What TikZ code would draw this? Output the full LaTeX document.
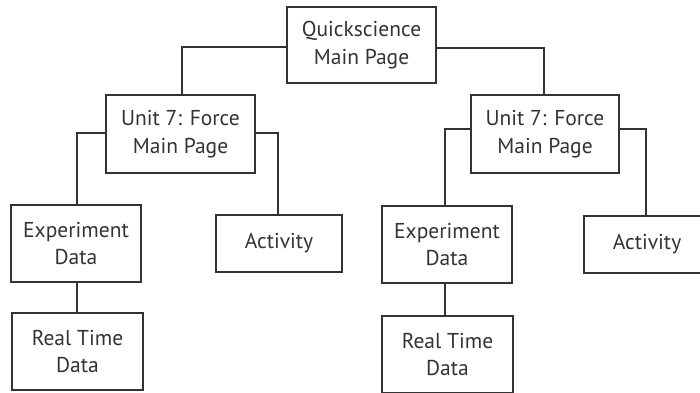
\documentclass[tikz,border=0pt]{standalone}
\usepackage{fontspec}
\setmainfont{PT Sans}
\definecolor{ink}{HTML}{333333}
\begin{document}
\begin{tikzpicture}[x=1pt,y=-1pt,
  box/.style={draw=ink, line width=1.4pt, text=ink, align=center, inner sep=0pt,
    font=\fontsize{21.5}{27.5}\selectfont},
  link/.style={draw=ink, line width=1.6pt}]
\useasboundingbox (0,0) rectangle (700,392);
\node[box, minimum width=149pt, minimum height=76pt] (Q) at (361.5,45) {Quickscience\\Main Page};
\node[box, minimum width=149pt, minimum height=78pt] (UL) at (180.5,134) {Unit 7: Force\\Main Page};
\node[box, minimum width=148pt, minimum height=78pt] (UR) at (545,134) {Unit 7: Force\\Main Page};
\node[box, minimum width=130pt, minimum height=77pt] (EL) at (76,243.5) {Experiment\\Data};
\node[box, minimum width=126pt, minimum height=57pt] (AL) at (279,243.5) {Activity};
\node[box, minimum width=131pt, minimum height=77pt] (RL) at (77.5,351.5) {Real Time\\Data};
\node[box, minimum width=130pt, minimum height=77pt] (ER) at (447,244.5) {Experiment\\Data};
\node[box, minimum width=126pt, minimum height=57pt] (AR) at (647,244.5) {Activity};
\node[box, minimum width=131pt, minimum height=77pt] (RR) at (447.5,354.5) {Real Time\\Data};
\draw[link] ([yshift=-2pt]Q.west) -| ([xshift=1.5pt]UL.north);
\draw[link] ([yshift=-3pt]Q.east) -| ([xshift=-1pt]UR.north);
\draw[link] ([yshift=1pt]UL.west) -| ([xshift=1pt]EL.north);
\draw[link] ([yshift=1pt]UL.east) -| ([xshift=-1pt]AL.north);
\draw[link] ([xshift=1pt]EL.south) -- ([xshift=-0.5pt]RL.north);
\draw[link] ([yshift=5pt]UR.west) -| ([xshift=-2pt]ER.north);
\draw[link] ([yshift=5pt]UR.east) -| ([xshift=-1pt]AR.north);
\draw[link] ([xshift=-2pt]ER.south) -- ([xshift=-2.5pt]RR.north);
\end{tikzpicture}
\end{document}
